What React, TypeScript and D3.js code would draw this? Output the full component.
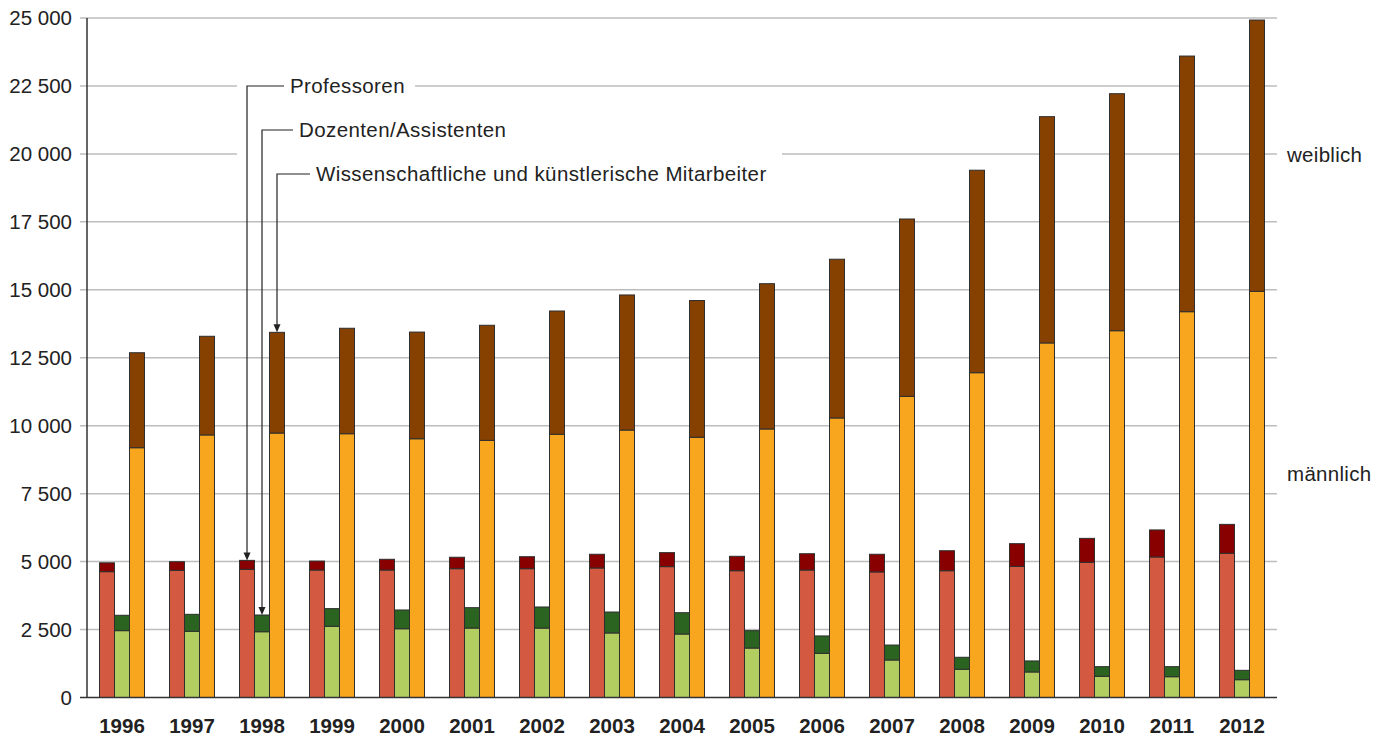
import React from "react";
import * as d3 from "d3";

const years = ["1996","1997","1998","1999","2000","2001","2002","2003","2004","2005","2006","2007","2008","2009","2010","2011","2012"];
const profMale = [4630,4680,4715,4690,4690,4740,4740,4765,4815,4665,4690,4620,4665,4825,4975,5170,5305];
const profFemale = [325,315,330,330,395,420,440,505,515,530,600,650,735,835,880,995,1065];
const dozMale = [2460,2435,2420,2620,2530,2555,2555,2375,2335,1820,1625,1380,1040,940,780,765,655];
const dozFemale = [565,625,615,650,690,750,775,770,785,640,640,550,440,405,355,370,345];
const wmMale = [9190,9660,9730,9705,9520,9460,9685,9840,9575,9880,10285,11080,11950,13045,13495,14195,14945];
const wmFemale = [3495,3630,3705,3880,3925,4235,4535,4970,5030,5345,5840,6525,7450,8325,8720,9405,9980];
const yTicks = [0,2500,5000,7500,10000,12500,15000,17500,20000,22500,25000];
const groups = ["prof","doz","wm"];
const groupLabels = ["Professoren","Dozenten/Assistenten","Wissenschaftliche und künstlerische Mitarbeiter"];
const colors: Record<string,[string,string]> = {
  prof: ["#d35a40", "#890000"],
  doz: ["#b2ce60", "#2a6420"],
  wm: ["#f7a61e", "#864000"],
};
const legendLabels = ["weiblich","männlich"];

const W = 1389, H = 736;
const left = 87, right = 1277, top = 18, bottom = 697.5;
const FONT = "'Liberation Sans', Arial, Helvetica, sans-serif";
const FS = 20.5;

export default function App() {
  const x = d3.scaleBand().domain(years).range([left, right]).padding(0);
  const bw = x.bandwidth();
  const inner = d3.scaleBand().domain(groups).range([bw / 2 - 22.5, bw / 2 + 22.5]).padding(0);
  const y = d3.scaleLinear().domain([0, 25000]).range([bottom, top]);
  const loc = d3.formatLocale({ decimal: ",", thousands: "\u2009", grouping: [3], currency: ["", ""] });
  const fmt = (v: number) => loc.format(",")(v).replace("\u2009", " ");

  const data: Record<string, [number[], number[]]> = {
    prof: [profMale, profFemale],
    doz: [dozMale, dozFemale],
    wm: [wmMale, wmFemale],
  };

  const bars: React.ReactNode[] = [];
  years.forEach((yr, i) => {
    groups.forEach((g) => {
      const m = data[g][0][i];
      const f = data[g][1][i];
      const bx = (x(yr) as number) + (inner(g) as number);
      const w = inner.bandwidth();
      bars.push(
        <rect key={`${yr}-${g}-m`} x={bx} y={y(m)} width={w} height={y(0) - y(m)}
          fill={colors[g][0]} stroke="#2e2e2e" strokeWidth={1} />
      );
      bars.push(
        <rect key={`${yr}-${g}-f`} x={bx} y={y(m + f)} width={w} height={y(m) - y(m + f)}
          fill={colors[g][1]} stroke="#2e2e2e" strokeWidth={1} />
      );
    });
  });

  // annotation pointing at 1998 bars
  const annYear = "1998";
  const ai = years.indexOf(annYear);
  const annY = [86, 130, 174];
  const annTextX = [290, 299, 316];
  const annotations = groups.map((g, k) => {
    const cx = (x(annYear) as number) + (inner(g) as number) + inner.bandwidth() / 2;
    const tip = y(data[g][0][ai] + data[g][1][ai]);
    return (
      <g key={g}>
        <path d={`M${annTextX[k] - 6},${annY[k]} H${cx} V${tip - 7}`} fill="none" stroke="#222" strokeWidth={1.2} />
        <path d={`M${cx - 3.5},${tip - 8} L${cx + 3.5},${tip - 8} L${cx},${tip} Z`} fill="#222" />
        <text x={annTextX[k]} y={annY[k] + 7.3} fontSize={FS} letterSpacing={0.4} fill="#222" fontFamily={FONT}>{groupLabels[k]}</text>
      </g>
    );
  });

  return (
    <svg width={W} height={H} style={{ position: "absolute", left: 0, top: 0, background: "#fff" }}>
      {yTicks.map((t) => (
        <g key={t}>
          {t > 0 && <line x1={80} x2={right} y1={y(t)} y2={y(t)} stroke="#bdbdbd" strokeWidth={1.5} />}
          <text x={72} y={y(t) + 7.3} textAnchor="end" fontSize={FS} fill="#222" fontFamily={FONT}>{fmt(t)}</text>
        </g>
      ))}
      <line x1={80} x2={left} y1={y(0)} y2={y(0)} stroke="#333" strokeWidth={1.5} />
      {/* white masks behind annotation labels */}
      <rect x={237} y={78} width={178} height={16} fill="#fff" />
      <rect x={237} y={146} width={545} height={16} fill="#fff" />
      {bars}
      <line x1={left} x2={left} y1={top} y2={bottom} stroke="#333" strokeWidth={1.5} />
      <line x1={left} x2={right} y1={bottom} y2={bottom} stroke="#333" strokeWidth={1.5} />
      {annotations}
      {years.map((yr) => (
        <text key={yr} x={(x(yr) as number) + bw / 2} y={733} textAnchor="middle" fontSize={FS}
          fontWeight="bold" fill="#222" fontFamily={FONT}>{yr}</text>
      ))}
      <text x={1287} y={162} fontSize={FS} letterSpacing={0.3} fill="#222" fontFamily={FONT}>{legendLabels[0]}</text>
      <text x={1287} y={481} fontSize={FS} letterSpacing={0.3} fill="#222" fontFamily={FONT}>{legendLabels[1]}</text>
    </svg>
  );
}
